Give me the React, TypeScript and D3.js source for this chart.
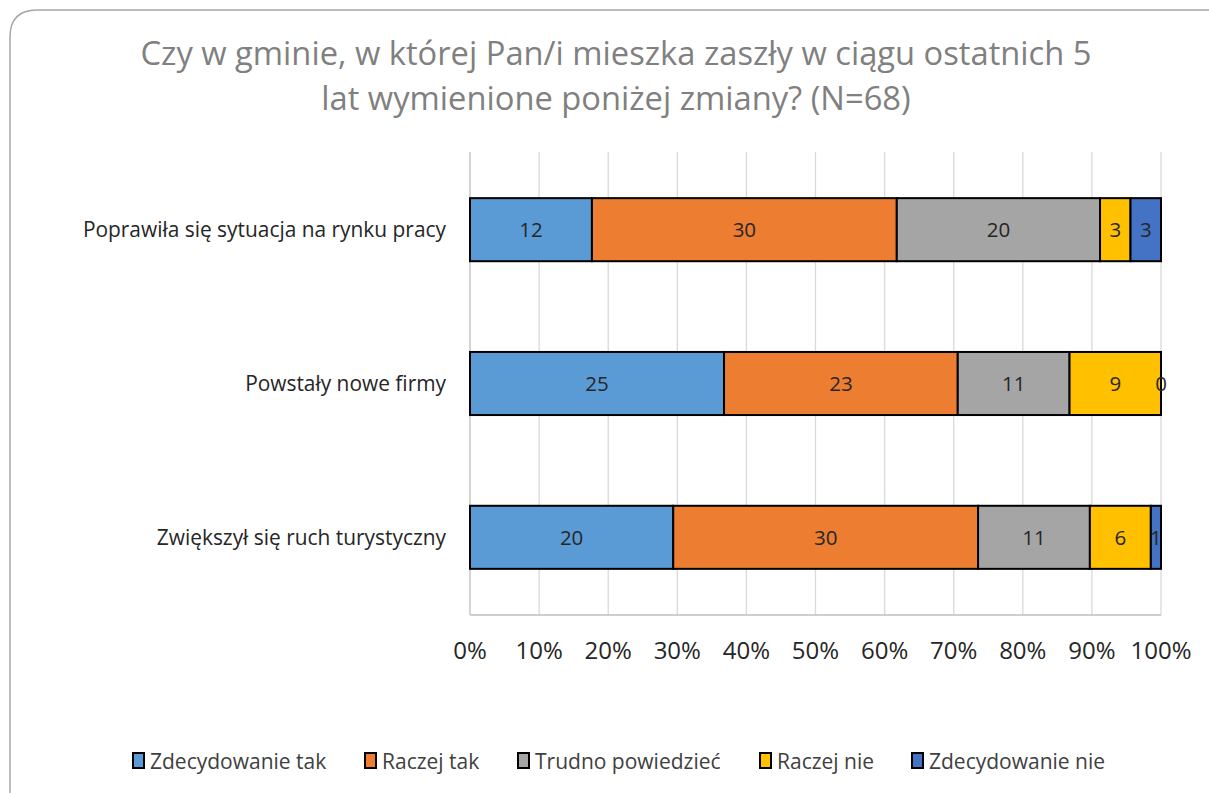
import React from "react";
import * as d3 from "d3";

const categories = [
  "Poprawiła się sytuacja na rynku pracy",
  "Powstały nowe firmy",
  "Zwiększył się ruch turystyczny",
];
const seriesNames = ["Zdecydowanie tak", "Raczej tak", "Trudno powiedzieć", "Raczej nie", "Zdecydowanie nie"];
const seriesColors = ["#5B9BD5", "#ED7D31", "#A5A5A5", "#FFC000", "#4472C4"];
const zdecydowanieTak = [12, 25, 20];
const raczejTak = [30, 23, 30];
const trudnoPowiedziec = [20, 11, 11];
const raczejNie = [3, 9, 6];
const zdecydowanieNie = [3, 0, 1];
const tickValues = [0, 0.1, 0.2, 0.3, 0.4, 0.5, 0.6, 0.7, 0.8, 0.9, 1];
const titleLines = [
  "Czy w gminie, w której Pan/i mieszka zaszły w ciągu ostatnich 5",
  "lat wymienione poniżej zmiany? (N=68)",
];
const legendX = [132, 364, 517, 759, 911];

const FONT = "'Open Sans', sans-serif";

export default function App() {
  const W = 1209, H = 793;
  const left = 470, right = 1161, top = 152, bottom = 615;
  const series = [zdecydowanieTak, raczejTak, trudnoPowiedziec, raczejNie, zdecydowanieNie];
  const rows = categories.map((c, i) => {
    const o: any = { cat: c };
    seriesNames.forEach((s, j) => (o[s] = series[j][i]));
    return o;
  });
  const stack = d3.stack<any>().keys(seriesNames).offset(d3.stackOffsetExpand);
  const stacked = stack(rows);
  const x = d3.scaleLinear().domain([0, 1]).range([left, right]);
  const y = d3.scaleBand().domain(categories).range([top, bottom]).paddingInner(0.59).paddingOuter(0.3);

  return (
    <div style={{ position: "absolute", left: 0, top: 0 }}>
      <svg width={W} height={H} style={{ display: "block" }}>
        <rect x={0} y={0} width={W} height={H} fill="#fff" />
        <path
          d={`M10,${H + 5} L10,37 Q10,10 37,10 L${W + 5},10`}
          fill="none"
          stroke="#a6a6a6"
          strokeWidth={1.5}
        />
        {titleLines.map((t, i) => (
          <text key={i} x={616} y={65 + i * 45} textAnchor="middle" fontFamily={FONT} fontSize={32.7} fill="#808080">
            {t}
          </text>
        ))}
        {tickValues.map((t, i) => (
          <line key={i} x1={x(t)} x2={x(t)} y1={top} y2={bottom} stroke={i === 0 ? "#bfbfbf" : "#d9d9d9"} strokeWidth={1.3} />
        ))}
        <line x1={left} x2={right} y1={bottom} y2={bottom} stroke="#bfbfbf" strokeWidth={1.3} />
        {stacked.map((s, j) =>
          s.map((d, i) => (
            <rect
              key={`${j}-${i}`}
              x={x(d[0])}
              y={y(categories[i])!}
              width={x(d[1]) - x(d[0])}
              height={y.bandwidth()}
              fill={seriesColors[j]}
              stroke="#000"
              strokeWidth={2}
            />
          ))
        )}
        {stacked.map((s, j) =>
          s.map((d, i) => (
            <text
              key={`l${j}-${i}`}
              x={(x(d[0]) + x(d[1])) / 2}
              y={y(categories[i])! + y.bandwidth() / 2}
              dy="0.36em"
              textAnchor="middle"
              fontFamily={FONT}
              fontSize={20.5}
              fill="#262626"
            >
              {series[j][i]}
            </text>
          ))
        )}
        {categories.map((c, i) => (
          <text key={c} x={446} y={y(c)! + y.bandwidth() / 2} dy="0.36em" textAnchor="end" fontFamily={FONT} fontSize={20.9} fill="#262626">
            {c}
          </text>
        ))}
        {tickValues.map((t, i) => (
          <text key={i} x={x(t)} y={659} textAnchor="middle" fontFamily={FONT} fontSize={24} fill="#262626">
            {d3.format(".0%")(t)}
          </text>
        ))}
        {seriesNames.map((s, j) => (
          <g key={s}>
            <rect x={legendX[j] + 1} y={753} width={11} height={15} fill={seriesColors[j]} stroke="#000" strokeWidth={2} />
            <text x={legendX[j] + 18} y={769} fontFamily={FONT} fontSize={21} fill="#404040">
              {s}
            </text>
          </g>
        ))}
      </svg>
    </div>
  );
}
